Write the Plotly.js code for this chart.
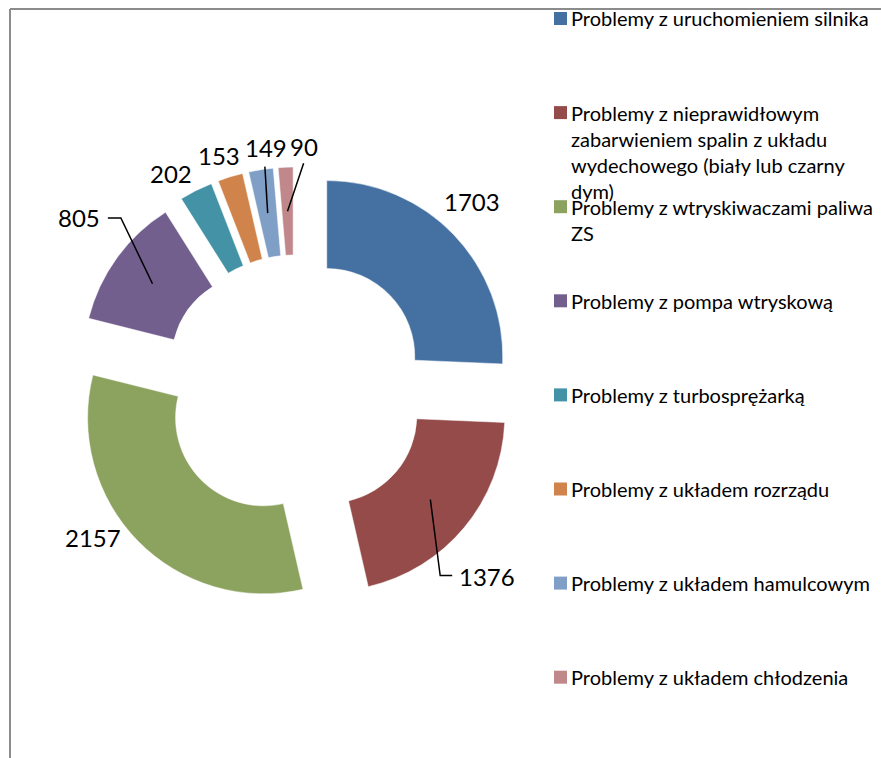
<!DOCTYPE html>
<html>
<head>
<meta charset="utf-8">
<script src="https://cdn.plot.ly/plotly-3.0.1.min.js"></script>
<style>
  html, body { margin: 0; padding: 0; background: #ffffff; }
  #chart { width: 881px; height: 758px; }
</style>
</head>
<body>
<div id="chart"></div>
<script>
// ---- data ----
const categories = [
  "Problemy z uruchomieniem silnika",
  "Problemy z nieprawidłowym zabarwieniem spalin z układu wydechowego (biały lub czarny dym)",
  "Problemy z wtryskiwaczami paliwa ZS",
  "Problemy z pompa wtryskową",
  "Problemy z turbosprężarką",
  "Problemy z układem rozrządu",
  "Problemy z układem hamulcowym",
  "Problemy z układem chłodzenia"
];
const legendText = [
  "Problemy z uruchomieniem silnika",
  "Problemy z nieprawidłowym<br>zabarwieniem spalin z układu<br>wydechowego (biały lub czarny<br>dym)",
  "Problemy z wtryskiwaczami paliwa<br>ZS",
  "Problemy z pompa wtryskową",
  "Problemy z turbosprężarką",
  "Problemy z układem rozrządu",
  "Problemy z układem hamulcowym",
  "Problemy z układem chłodzenia"
];
const values = [1703, 1376, 2157, 805, 202, 153, 149, 90];
const colors = ["#4571A2", "#954B4A", "#8CA360", "#725F8E", "#4392A6", "#D0844C", "#809FC6", "#C0888B"];

// ---- layout settings (px) ----
const W = 881, H = 758;
const px = v => v / W;
const py = v => 1 - v / H;
const DOM = { x0: 75, x1: 515, y0: 167, y1: 607 };   // pie domain box in pixels
const HOLE = 0.5, PULL = 0.25;
// value-label placement relative to the outer edge of each slice's bisector (px)
const labelOffset = [[18, -33], [23, 49], [-45, -3], [-38, -40], [-25, -17], [-11, -21], [5, -22], [18, -21]];
// leader line bends, relative to the label centre (px); null = no leader line
const leaderPts = [null, [[-47, -1], [-35, -1]], null, [[42, 0], [29, 0]], null, null, [[-1, 19]], [[0, 17]]];

// ---- pie geometry (same rules Plotly uses) ----
const cx = (DOM.x0 + DOM.x1) / 2, cy = (DOM.y0 + DOM.y1) / 2;
const R = Math.min(DOM.x1 - DOM.x0, DOM.y1 - DOM.y0) / (2 + 2 * PULL);
const total = values.reduce((a, b) => a + b, 0);
let acc = 0;
const mids = values.map(v => { const m = (acc + v / 2) / total; acc += v; return m * 2 * Math.PI; });

const pie = {
  type: "pie",
  labels: categories,
  values: values,
  sort: false,
  direction: "clockwise",
  rotation: 0,
  hole: HOLE,
  pull: values.map(() => PULL),
  marker: { colors: colors, line: { color: "#ffffff", width: 0.5 } },
  textinfo: "none",
  showlegend: false,
  hoverinfo: "label+value",
  domain: { x: [px(DOM.x0), px(DOM.x1)], y: [py(DOM.y1), py(DOM.y0)] }
};

const shapes = [
  { type: "line", xref: "paper", yref: "paper", x0: px(10), x1: px(W + 5), y0: py(9), y1: py(9),
    line: { color: "#8c8c8c", width: 2 } },
  { type: "line", xref: "paper", yref: "paper", x0: px(10), x1: px(10), y0: py(9), y1: py(H + 5),
    line: { color: "#8c8c8c", width: 2 } }
];
const annotations = [];

// value labels + leader lines
values.forEach((v, i) => {
  const dx = Math.sin(mids[i]), dy = -Math.cos(mids[i]);
  const outer = [cx + (PULL * R + R) * dx, cy + (PULL * R + R) * dy];
  const midRing = [cx + (PULL * R + R * (1 + HOLE) / 2) * dx, cy + (PULL * R + R * (1 + HOLE) / 2) * dy];
  const lc = [outer[0] + labelOffset[i][0], outer[1] + labelOffset[i][1]];
  annotations.push({ xref: "paper", yref: "paper", x: px(lc[0]), y: py(lc[1]),
    xanchor: "center", yanchor: "middle", showarrow: false, text: String(v),
    font: { family: "Lato, 'Open Sans', sans-serif", size: 24, color: "#000000" } });
  if (leaderPts[i]) {
    let d = "M" + px(midRing[0]) + "," + py(midRing[1]);
    leaderPts[i].forEach(p => { d += " L" + px(lc[0] + p[0]) + "," + py(lc[1] + p[1]); });
    shapes.push({ type: "path", xref: "paper", yref: "paper", path: d,
      line: { color: "#000000", width: 1.5 } });
  }
});

// legend built from the category list
const legTop = 18.5, legStep = 94.1;
legendText.forEach((t, i) => {
  const yc = legTop + i * legStep;
  shapes.push({ type: "rect", xref: "paper", yref: "paper",
    x0: px(554), x1: px(567), y0: py(yc - 6.5), y1: py(yc + 6.5),
    fillcolor: colors[i], line: { width: 0 } });
  annotations.push({ xref: "paper", yref: "paper", x: px(569), y: py(yc - 14),
    xanchor: "left", yanchor: "top", align: "left", showarrow: false,
    text: t, font: { family: "Lato, 'Open Sans', sans-serif", size: 20, color: "#000000" } });
});

const layout = {
  width: W, height: H,
  margin: { l: 0, r: 0, t: 0, b: 0 },
  paper_bgcolor: "#ffffff",
  showlegend: false,
  shapes: shapes,
  annotations: annotations
};

Plotly.newPlot("chart", [pie], layout, { displayModeBar: false, staticPlot: true });
</script>
</body>
</html>
